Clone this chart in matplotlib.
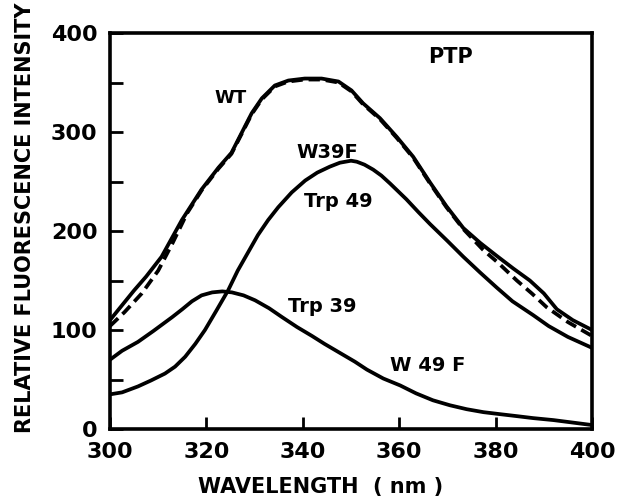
import matplotlib
matplotlib.use("Agg")
import matplotlib.pyplot as plt
from matplotlib.ticker import MultipleLocator

# ----------------------------------------------------
# Data
# ----------------------------------------------------

# WT, solid line
wt_wl = [300, 302.5, 305, 307.5, 310.7, 314.9, 319, 322.5, 325.2, 327.3,
         329.4, 331.5, 334.2, 337, 340.4, 343.9, 347.4, 350.1, 352.5, 356,
         359.5, 362.9, 366.4, 369.8, 373.3, 376.8, 380.2, 383.7, 387.1,
         390, 392.7, 396, 400]
wt_solid = [110, 125, 140, 154, 174, 211, 242, 264, 279, 299,
            319, 334, 347, 352, 354, 354, 351, 342, 329, 314,
            295, 275, 249, 225, 203, 188, 175, 162, 150,
            137, 121, 110, 100]

# WT, dashed line
wtd_wl = [300, 303, 306.6, 310, 313, 316, 319, 322.5, 325.2, 327.3,
          329.4, 331.5, 334.2, 337, 340.4, 343.9, 347.4, 350.1, 352.5, 356,
          359.5, 362.9, 366.4, 369.8, 373.3, 377.4, 380.5, 384.4, 387.5,
          390.6, 395, 400]
wt_dashed = [104, 118, 137, 160, 188, 218, 241, 263, 278, 298,
             318, 333, 346, 351, 353, 353, 350, 341, 328, 313,
             294, 274, 248, 224, 202, 181, 168, 150, 137,
             123, 108, 94]

# W39F (Trp 49)
w39f_wl = [300, 302.5, 305.8, 308.5, 311.4, 313.5, 315.6, 317.7, 319.7, 322,
           324.5, 326.5, 328.6, 330.7, 332.8, 334.9, 337.7, 340.5, 343,
           345.6, 347.7, 350, 351.2, 352.8, 354.6, 356.3, 358.1, 361.5, 364,
           366.4, 370, 373.3, 376.8, 380.2, 383.5, 387.8, 391, 395, 400]
w39f = [35, 37, 43, 49, 56, 63, 73, 86, 100, 119,
        140, 160, 178, 196, 211, 224, 239, 251, 259,
        265, 269, 271, 270, 267, 262, 256, 248, 232, 219,
        207, 190, 174, 158, 143, 129, 115, 104, 93, 82]

# W49F (Trp 39)
w49f_wl = [300, 302.5, 305.8, 309, 312.9, 315, 317, 319, 321.2, 323.3,
           325.3, 327.7, 330.1, 333, 335.7, 338.8, 341.9, 344.5, 347.3,
           350.8, 353.3, 356.7, 360.2, 363.5, 367, 370.5, 374, 377.5, 380.9,
           384.4, 387.8, 392, 396, 400]
w49f = [70, 79, 88, 99, 113, 121, 129, 135, 138, 139,
        138, 135, 130, 122, 113, 103, 94, 86, 78,
        68, 60, 51, 44, 36, 29, 24, 20, 17, 15,
        13, 11, 9, 6.5, 4]

# curve labels: text, wavelength, intensity, size
labels = [
    ("WT", 325, 334, 13),
    ("W39F", 345, 279, 14),
    ("Trp 49", 347.3, 230, 14),
    ("Trp 39", 344, 124, 14),
    ("W 49 F", 366, 64, 14),
    ("PTP", 370.7, 376, 15),
]

# ----------------------------------------------------
# Figure
# ----------------------------------------------------

plt.rcParams["font.family"] = "DejaVu Sans"
plt.rcParams["font.weight"] = "bold"

fig = plt.figure(figsize=(6.19, 5.04), dpi=100)
ax = fig.add_axes([0.1777, 0.1488, 0.7787, 0.7857])

lw = 2.7
ax.plot(wt_wl, wt_solid, color="black", lw=lw, solid_joinstyle="round")
ax.plot(wtd_wl, wt_dashed, color="black", lw=lw, linestyle=(0, (3, 1.6)))
ax.plot(w39f_wl, w39f, color="black", lw=lw, solid_joinstyle="round")
ax.plot(w49f_wl, w49f, color="black", lw=lw, solid_joinstyle="round")

for text, x, y, size in labels:
    ax.text(x, y, text, ha="center", va="center", fontsize=size,
            fontweight="bold")

ax.set_xlim(300, 400)
ax.set_ylim(0, 400)

ax.xaxis.set_major_locator(MultipleLocator(20))
ax.yaxis.set_major_locator(MultipleLocator(100))
ax.yaxis.set_minor_locator(MultipleLocator(50))

ax.tick_params(axis="both", which="both", direction="in", width=2,
               length=9, labelsize=16, pad=9)
ax.tick_params(axis="y", which="minor", labelleft=False)
for lab in ax.get_xticklabels() + ax.get_yticklabels():
    lab.set_fontweight("bold")

for side in ["left", "right", "top", "bottom"]:
    ax.spines[side].set_linewidth(2.6)

ax.set_xlabel("WAVELENGTH  ( nm )", fontsize=15, fontweight="bold",
              va="center")
ax.xaxis.set_label_coords(0.436, -0.146)

ax.set_ylabel("RELATIVE FLUORESCENCE INTENSITY", fontsize=15,
              fontweight="bold", va="center")
ax.yaxis.set_label_coords(-0.176, 0.533)

fig.savefig("out.png", dpi=100)
